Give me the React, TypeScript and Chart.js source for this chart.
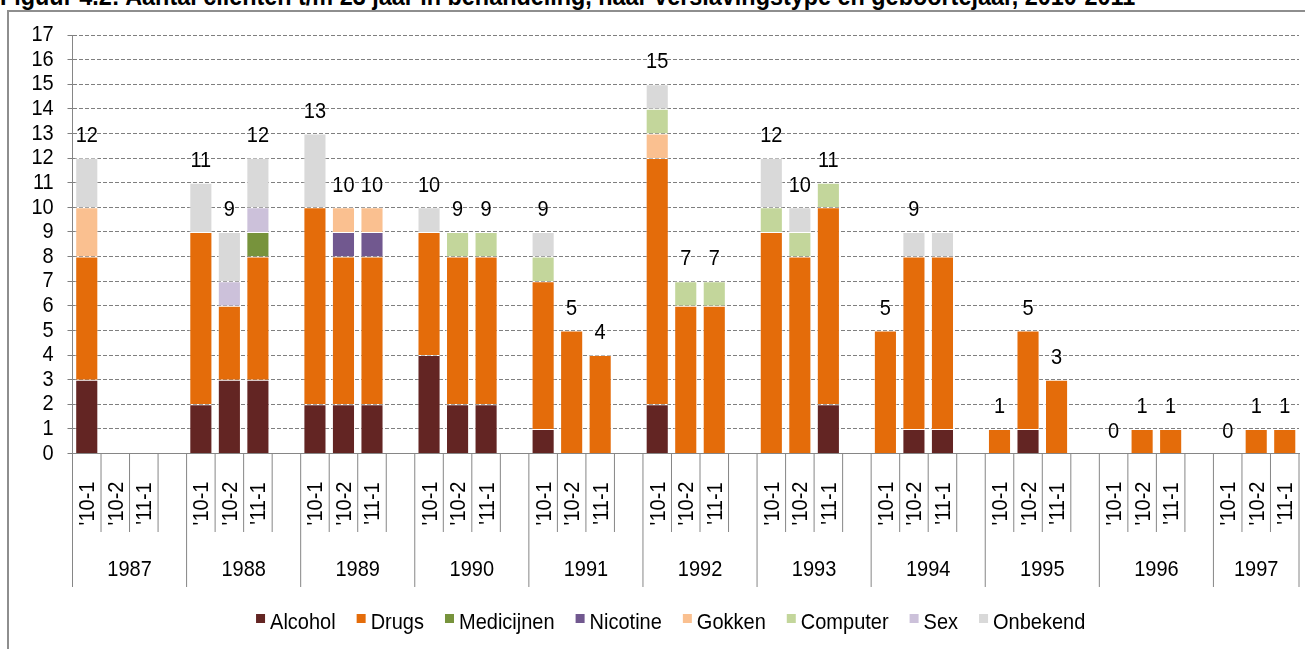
import { useEffect, useRef } from 'react';
import { Chart, registerables } from 'chart.js';

Chart.register(...registerables);

const TITLE =
  'Figuur 4.2: Aantal cliënten t/m 23 jaar in behandeling, naar verslavingstype en geboortejaar, 2010-2011';

const years = ['1987', '1988', '1989', '1990', '1991', '1992', '1993', '1994', '1995', '1996', '1997'];
const periods = ["'10-1", "'10-2", "'11-1"];
const yTicks = [0, 1, 2, 3, 4, 5, 6, 7, 8, 9, 10, 11, 12, 13, 14, 15, 16, 17];

// Per birth year: '10-1, '10-2, '11-1, then an empty spacer slot (none after the last year)
const alcohol = [
  3, null, null, null,
  2, 3, 3, null,
  2, 2, 2, null,
  4, 2, 2, null,
  1, 0, 0, null,
  2, 0, 0, null,
  0, 0, 2, null,
  0, 1, 1, null,
  0, 1, 0, null,
  0, 0, 0, null,
  0, 0, 0,
];
const drugs = [
  5, null, null, null,
  7, 3, 5, null,
  8, 6, 6, null,
  5, 6, 6, null,
  6, 5, 4, null,
  10, 6, 6, null,
  9, 8, 8, null,
  5, 7, 7, null,
  1, 4, 3, null,
  0, 1, 1, null,
  0, 1, 1,
];
const medicijnen = [
  0, null, null, null,
  0, 0, 1, null,
  0, 0, 0, null,
  0, 0, 0, null,
  0, 0, 0, null,
  0, 0, 0, null,
  0, 0, 0, null,
  0, 0, 0, null,
  0, 0, 0, null,
  0, 0, 0, null,
  0, 0, 0,
];
const nicotine = [
  0, null, null, null,
  0, 0, 0, null,
  0, 1, 1, null,
  0, 0, 0, null,
  0, 0, 0, null,
  0, 0, 0, null,
  0, 0, 0, null,
  0, 0, 0, null,
  0, 0, 0, null,
  0, 0, 0, null,
  0, 0, 0,
];
const gokken = [
  2, null, null, null,
  0, 0, 0, null,
  0, 1, 1, null,
  0, 0, 0, null,
  0, 0, 0, null,
  1, 0, 0, null,
  0, 0, 0, null,
  0, 0, 0, null,
  0, 0, 0, null,
  0, 0, 0, null,
  0, 0, 0,
];
const computer = [
  0, null, null, null,
  0, 0, 0, null,
  0, 0, 0, null,
  0, 1, 1, null,
  1, 0, 0, null,
  1, 1, 1, null,
  1, 1, 1, null,
  0, 0, 0, null,
  0, 0, 0, null,
  0, 0, 0, null,
  0, 0, 0,
];
const sex = [
  0, null, null, null,
  0, 1, 1, null,
  0, 0, 0, null,
  0, 0, 0, null,
  0, 0, 0, null,
  0, 0, 0, null,
  0, 0, 0, null,
  0, 0, 0, null,
  0, 0, 0, null,
  0, 0, 0, null,
  0, 0, 0,
];
const onbekend = [
  2, null, null, null,
  2, 2, 2, null,
  3, 0, 0, null,
  1, 0, 0, null,
  1, 0, 0, null,
  1, 0, 0, null,
  2, 1, 0, null,
  0, 1, 1, null,
  0, 0, 0, null,
  0, 0, 0, null,
  0, 0, 0,
];
// Total labels shown above the bars (null = no label in the picture)
const totals = [
  12, null, null, null,
  11, 9, 12, null,
  13, 10, 10, null,
  10, 9, 9, null,
  9, 5, 4, null,
  15, 7, 7, null,
  12, 10, 11, null,
  5, 9, null, null,
  1, 5, 3, null,
  0, 1, 1, null,
  0, 1, 1,
];

const seriesNames = ['Alcohol', 'Drugs', 'Medicijnen', 'Nicotine', 'Gokken', 'Computer', 'Sex', 'Onbekend'];
const seriesData = [alcohol, drugs, medicijnen, nicotine, gokken, computer, sex, onbekend];
const seriesColors = ['#632523', '#E46C0A', '#77933C', '#71588F', '#FAC090', '#C3D69B', '#CCC1DA', '#D9D9D9'];

const FONT_FAMILY = '"Liberation Sans", Arial, sans-serif';
const FONT = `20px ${FONT_FAMILY}`;
const SY = 1.12; // glyphs in the reference are slightly taller than wide
const LINE = '#868686';
const GRID = '#7f7f7f';

// build category slots & year groups
const categories: string[] = [];
const groups: { year: string; start: number; count: number }[] = [];
years.forEach((yr, yi) => {
  const start = categories.length;
  periods.forEach((p) => categories.push(p));
  if (yi < years.length - 1) categories.push('');
  groups.push({ year: yr, start, count: categories.length - start });
});

function text(
  ctx: CanvasRenderingContext2D,
  s: string,
  x: number,
  y: number,
  align: CanvasTextAlign,
  base: CanvasTextBaseline,
  rot = 0,
) {
  ctx.save();
  ctx.translate(x, y);
  if (rot) ctx.rotate(rot);
  ctx.scale(rot ? SY : 1, rot ? 1 : SY);
  ctx.textAlign = align;
  ctx.textBaseline = base;
  ctx.fillText(s, 0, 0);
  ctx.restore();
}

const multiAxisPlugin = {
  id: 'multiAxis',
  afterDraw(chart: any) {
    const ctx: CanvasRenderingContext2D = chart.ctx;
    const xs = chart.scales.x;
    const ys = chart.scales.y;
    const n = categories.length;
    const slot = (xs.right - xs.left) / n;
    const y0 = ys.getPixelForValue(0);
    const boundaries = new Set<number>();
    groups.forEach((g) => boundaries.add(g.start));
    boundaries.add(n);

    ctx.save();
    // category separators
    ctx.strokeStyle = LINE;
    ctx.lineWidth = 1;
    for (let i = 0; i <= n; i++) {
      const x = xs.left + i * slot;
      const long = boundaries.has(i);
      ctx.beginPath();
      ctx.moveTo(x, y0);
      ctx.lineTo(x, y0 + (long ? 133.5 : 78.5));
      ctx.stroke();
    }

    ctx.fillStyle = '#000';
    ctx.font = FONT;

    // y tick labels
    yTicks.forEach((v) => {
      text(ctx, String(v), ys.left + 53.7 - ys.left, ys.getPixelForValue(v), 'right', 'middle');
    });

    // rotated period labels
    categories.forEach((c, i) => {
      if (!c) return;
      const cx = xs.getPixelForValue(i);
      ctx.save();
      ctx.translate(cx, y0 + 50);
      ctx.rotate(-Math.PI / 2);
      ctx.translate(0, 7.5);
      ctx.scale(1, SY);
      ctx.textAlign = 'center';
      ctx.textBaseline = 'alphabetic';
      ctx.fillText(c, 0, 0);
      ctx.restore();
    });

    // year labels
    groups.forEach((g) => {
      const xl = xs.left + g.start * slot;
      const xr = xs.left + (g.start + g.count) * slot;
      text(ctx, g.year, (xl + xr) / 2, y0 + 122.5, 'center', 'alphabetic');
    });

    // totals above bars
    totals.forEach((t, i) => {
      if (t === null || t === undefined) return;
      text(ctx, String(t), xs.getPixelForValue(i), ys.getPixelForValue(t) - 22, 'center', 'middle');
    });

    // legend
    const box = 9;
    const gapBoxText = 5;
    const gapItems = 21;
    const items = chart.data.datasets.map((d: any) => ({
      label: d.label as string,
      color: d.backgroundColor as string,
      w: ctx.measureText(d.label).width,
    }));
    const total =
      items.reduce((s: number, it: any) => s + box + gapBoxText + it.w, 0) + gapItems * (items.length - 1);
    let lx = 670.7 - total / 2;
    const ly = y0 + 175;
    items.forEach((it: any) => {
      ctx.fillStyle = it.color;
      ctx.fillRect(lx, ly - 14.5, box, box);
      ctx.fillStyle = '#000';
      text(ctx, it.label, lx + box + gapBoxText, ly, 'left', 'alphabetic');
      lx += box + gapBoxText + it.w + gapItems;
    });
    ctx.restore();
  },
};

export default function App() {
  const canvasRef = useRef<HTMLCanvasElement | null>(null);

  useEffect(() => {
    if (!canvasRef.current) return;
    const chart = new Chart(canvasRef.current, {
      type: 'bar',
      data: {
        labels: categories,
        datasets: seriesNames.map((name, i) => ({
          label: name,
          data: seriesData[i].map((v) => (v === 0 ? null : v)),
          backgroundColor: seriesColors[i],
          borderColor: 'rgba(255,255,255,0.45)',
          borderWidth: 1,
          barPercentage: 0.81,
          categoryPercentage: 1,
        })),
      },
      options: {
        animation: false,
        responsive: true,
        maintainAspectRatio: false,
        layout: { padding: { top: 35, right: 6, bottom: 195.5, left: 0 } },
        plugins: {
          legend: { display: false },
          tooltip: { enabled: false },
        },
        scales: {
          x: {
            type: 'category',
            stacked: true,
            ticks: { display: false },
            grid: { display: false, drawTicks: false },
            border: { display: true, color: LINE, width: 1 },
            afterFit: (s: any) => {
              s.height = 0;
            },
          },
          y: {
            stacked: true,
            min: 0,
            max: 17,
            ticks: {
              stepSize: 1,
              autoSkip: false,
              display: false,
            },
            grid: { color: GRID, tickLength: 5, drawTicks: true },
            border: { display: true, color: LINE, width: 1, dash: [4, 2] },
            afterFit: (s: any) => {
              s.width = 72.5;
            },
          },
        },
      },
      plugins: [multiAxisPlugin],
    } as any);
    return () => chart.destroy();
  }, []);

  return (
    <div
      style={{
        position: 'fixed',
        left: 0,
        top: 0,
        width: 1305,
        height: 649,
        overflow: 'hidden',
        background: '#fff',
      }}
    >
      <div
        style={{
          position: 'absolute',
          left: 0,
          top: -15,
          whiteSpace: 'nowrap',
          font: `bold 23.4px ${FONT_FAMILY}`,
          lineHeight: '24px',
          color: '#000',
          transform: 'scaleY(1.12)',
          transformOrigin: '0 20px',
        }}
      >
        {TITLE}
      </div>
      <div
        style={{
          position: 'absolute',
          left: 7,
          top: 10,
          width: 1305,
          height: 649,
          borderLeft: '2px solid #8e8e8e',
          borderTop: '2px solid #8e8e8e',
        }}
      />
      <div style={{ position: 'absolute', left: 0, top: 0, width: 1305, height: 649 }}>
        <canvas ref={canvasRef} />
      </div>
    </div>
  );
}
